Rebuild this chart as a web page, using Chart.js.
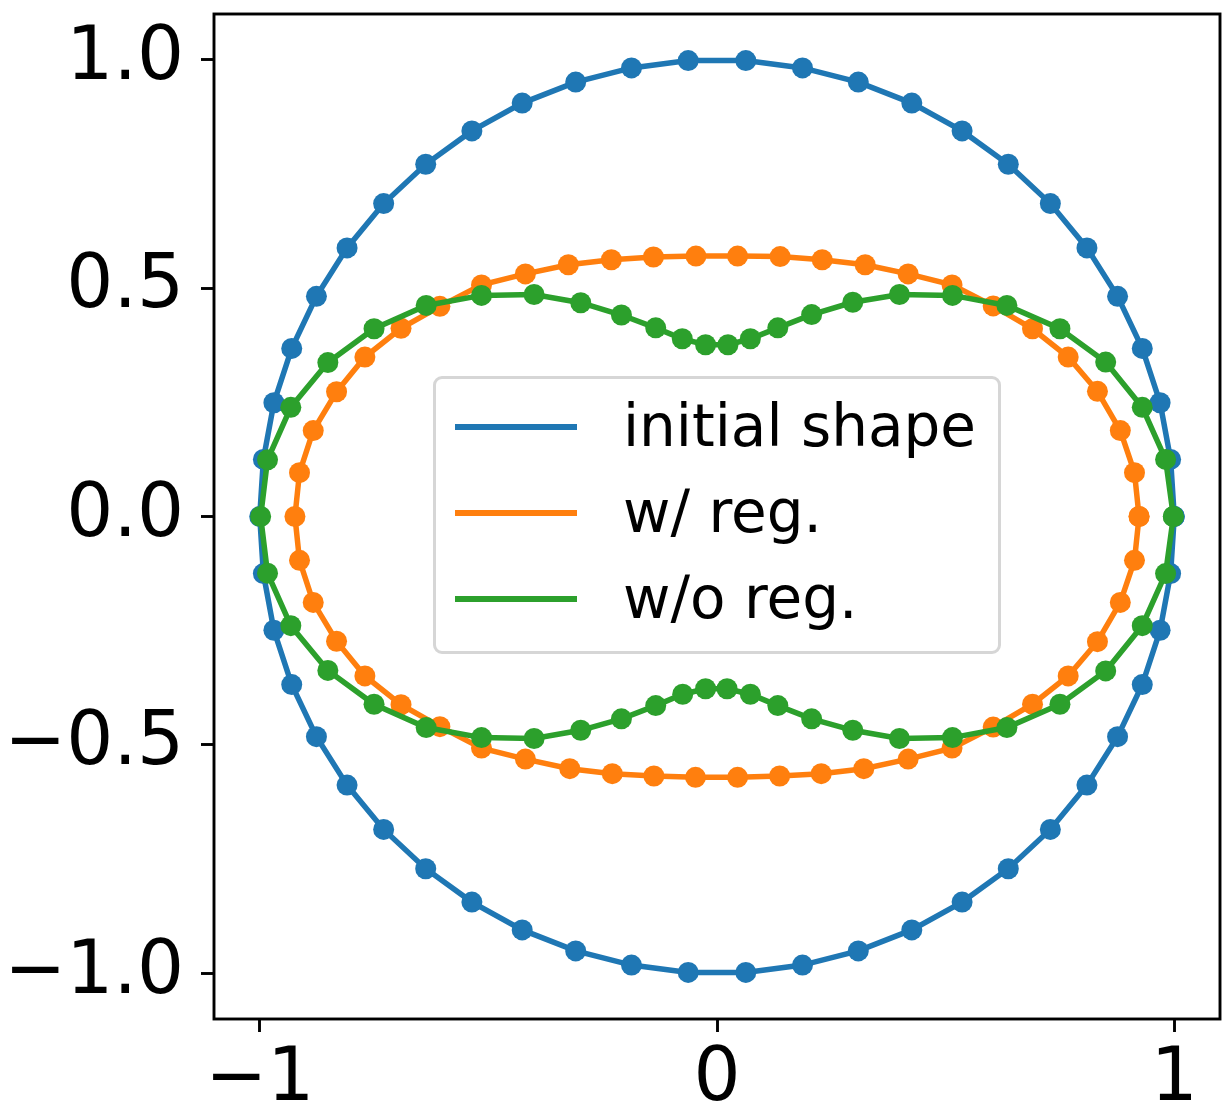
<!DOCTYPE html>
<html>
<head>
<meta charset="utf-8">
<script src="https://cdn.jsdelivr.net/npm/chart.js@4/dist/chart.umd.min.js"></script>
<style>
  html, body { margin: 0; padding: 0; background: #fff; }
  #wrap { position: relative; width: 1226px; height: 1118px; }
  #legend {
    position: absolute; left: 433px; top: 376px; width: 562px; height: 272px;
    border: 3px solid #d6d6d6; border-radius: 9px; background: #fff;
    font-family: 'DejaVu Sans', sans-serif; font-size: 58px; color: #000;
  }
  .row { position: absolute; left: 0; height: 69px; line-height: 69px; white-space: nowrap; }
  .swatch { position: absolute; left: 19px; width: 122px; height: 5.5px; }
  .label { position: absolute; left: 187px; top: 0; }
</style>
</head>
<body>
<div id="wrap">
  <canvas id="shapeChart"></canvas>
  <div id="legend"></div>
</div>
<script>
// boundary points, counter-clockwise from the right end, closed
const initialX = [1.000, 0.992, 0.969, 0.930, 0.876, 0.809, 0.729, 0.637, 0.536, 0.426, 0.309, 0.187, 0.063,
  -0.063, -0.187, -0.309, -0.426, -0.536, -0.637, -0.729, -0.809, -0.876, -0.930, -0.969, -0.992, -1.000,
  -0.992, -0.969, -0.930, -0.876, -0.809, -0.729, -0.637, -0.536, -0.426, -0.309, -0.187, -0.063,
  0.063, 0.187, 0.309, 0.426, 0.536, 0.637, 0.729, 0.809, 0.876, 0.930, 0.969, 0.992, 1.000];
const initialY = [0.000, 0.125, 0.249, 0.368, 0.482, 0.588, 0.685, 0.771, 0.844, 0.905, 0.951, 0.982, 0.998,
  0.998, 0.982, 0.951, 0.905, 0.844, 0.771, 0.685, 0.588, 0.482, 0.368, 0.249, 0.125, 0.000,
  -0.125, -0.249, -0.368, -0.482, -0.588, -0.685, -0.771, -0.844, -0.905, -0.951, -0.982, -0.998,
  -0.998, -0.982, -0.951, -0.905, -0.844, -0.771, -0.685, -0.588, -0.482, -0.368, -0.249, -0.125, 0.000];

const regX = [0.923, 0.913, 0.882, 0.832, 0.768, 0.690, 0.604, 0.514, 0.418, 0.324, 0.230, 0.138, 0.045,
  -0.046, -0.139, -0.231, -0.325, -0.419, -0.515, -0.606, -0.691, -0.770, -0.832, -0.883, -0.913, -0.923,
  -0.913, -0.883, -0.832, -0.770, -0.691, -0.606, -0.515, -0.419, -0.322, -0.229, -0.138, -0.047,
  0.045, 0.137, 0.228, 0.321, 0.418, 0.514, 0.604, 0.690, 0.768, 0.832, 0.882, 0.913, 0.923];
const regY = [0.000, 0.096, 0.188, 0.274, 0.349, 0.411, 0.461, 0.507, 0.531, 0.551, 0.562, 0.569, 0.570,
  0.570, 0.568, 0.562, 0.551, 0.531, 0.507, 0.460, 0.412, 0.349, 0.273, 0.188, 0.096, 0.000,
  -0.096, -0.188, -0.273, -0.349, -0.412, -0.460, -0.507, -0.531, -0.552, -0.563, -0.568, -0.571,
  -0.571, -0.568, -0.563, -0.552, -0.531, -0.507, -0.461, -0.411, -0.349, -0.274, -0.188, -0.096, 0.000];

const noRegX = [0.998, 0.981, 0.930, 0.850, 0.750, 0.634, 0.515, 0.399, 0.297, 0.207, 0.133, 0.073, 0.024,
  -0.025, -0.076, -0.134, -0.209, -0.298, -0.400, -0.515, -0.636, -0.750, -0.851, -0.932, -0.983, -0.998,
  -0.983, -0.932, -0.851, -0.750, -0.636, -0.515, -0.400, -0.298, -0.209, -0.134, -0.075, -0.025,
  0.022, 0.073, 0.133, 0.207, 0.297, 0.399, 0.515, 0.634, 0.750, 0.850, 0.930, 0.981, 0.998];
const noRegY = [0.000, 0.125, 0.239, 0.338, 0.411, 0.462, 0.484, 0.486, 0.469, 0.442, 0.413, 0.389, 0.376,
  0.376, 0.389, 0.413, 0.441, 0.468, 0.486, 0.484, 0.462, 0.411, 0.337, 0.239, 0.124, 0.000,
  -0.124, -0.239, -0.337, -0.411, -0.462, -0.484, -0.486, -0.468, -0.443, -0.414, -0.389, -0.377,
  -0.377, -0.389, -0.414, -0.443, -0.468, -0.486, -0.484, -0.462, -0.411, -0.338, -0.239, -0.125, 0.000];

const seriesLabels = ['initial shape', 'w/ reg.', 'w/o reg.'];
const xTicks = [-1, 0, 1];
const yTicks = [-1.0, -0.5, 0.0, 0.5, 1.0];

const colors = ['#1f77b4', '#ff7f0e', '#2ca02c'];

function toPoints(xs, ys) {
    return xs.map((x, i) => ({ x: x, y: ys[i] }));
}

function minusSign(s) {
    return s.replace('-', '\u2212');
}

// full axes frame like matplotlib spines
const framePlugin = {
    id: 'frame',
    afterDatasetsDraw(chart) {
        const a = chart.chartArea;
        const ctx = chart.ctx;
        ctx.save();
        ctx.strokeStyle = '#000';
        ctx.lineWidth = 2.9;
        ctx.strokeRect(a.left, a.top, a.right - a.left, a.bottom - a.top);
        ctx.restore();
    }
};

const datasets = [
    toPoints(initialX, initialY),
    toPoints(regX, regY),
    toPoints(noRegX, noRegY)
].map((pts, i) => ({
    label: seriesLabels[i],
    data: pts,
    showLine: true,
    borderColor: colors[i],
    backgroundColor: colors[i],
    borderWidth: 5.5,
    pointRadius: 10.5,
    pointBorderWidth: 0,
    pointBackgroundColor: colors[i],
    tension: 0,
    order: 2 - i
}));

Chart.defaults.font.family = "'DejaVu Sans', sans-serif";
Chart.defaults.color = '#000';

const tickFont = { size: 74 };
const axisGrid = {
    display: true,
    drawOnChartArea: false,
    drawTicks: true,
    tickLength: 13,
    tickWidth: 2.9,
    tickColor: '#000'
};

new Chart(document.getElementById('shapeChart').getContext('2d'), {
    type: 'scatter',
    data: { datasets },
    options: {
        responsive: true,
        maintainAspectRatio: false,
        animation: false,
        events: [],
        layout: { autoPadding: false, padding: { top: 14, right: 6, left: 0, bottom: 0 } },
        plugins: {
            legend: { display: false },
            tooltip: { enabled: false }
        },
        scales: {
            x: {
                type: 'linear',
                min: -1.1,
                max: 1.1,
                grid: axisGrid,
                border: { display: false },
                afterBuildTicks: s => { s.ticks = xTicks.map(v => ({ value: v })); },
                afterFit: s => {
                    s.height = 99;
                    // labels sit well inside the axis ends, no extra room needed
                    s.paddingLeft = 0;
                    s.paddingRight = 0;
                },
                ticks: {
                    font: tickFont,
                    padding: 4,
                    maxRotation: 0,
                    callback: v => minusSign(String(v))
                }
            },
            y: {
                type: 'linear',
                min: -1.1,
                max: 1.1,
                grid: axisGrid,
                border: { display: false },
                afterBuildTicks: s => { s.ticks = yTicks.map(v => ({ value: v })); },
                afterFit: s => {
                    s.width = 214;
                    s.paddingTop = 0;
                    s.paddingBottom = 0;
                },
                ticks: {
                    font: tickFont,
                    padding: 17,
                    callback: v => minusSign(v.toFixed(1))
                }
            }
        }
    },
    plugins: [framePlugin]
});

// legend box drawn as html over the axes
const legend = document.getElementById('legend');
seriesLabels.forEach((name, i) => {
    const row = document.createElement('div');
    row.className = 'row';
    row.style.top = (13 + i * 86) + 'px';
    row.innerHTML = '<div class="swatch" style="top:32px;background:' + colors[i] + '"></div>' +
        '<span class="label">' + name + '</span>';
    legend.appendChild(row);
});
</script>
</body>
</html>
